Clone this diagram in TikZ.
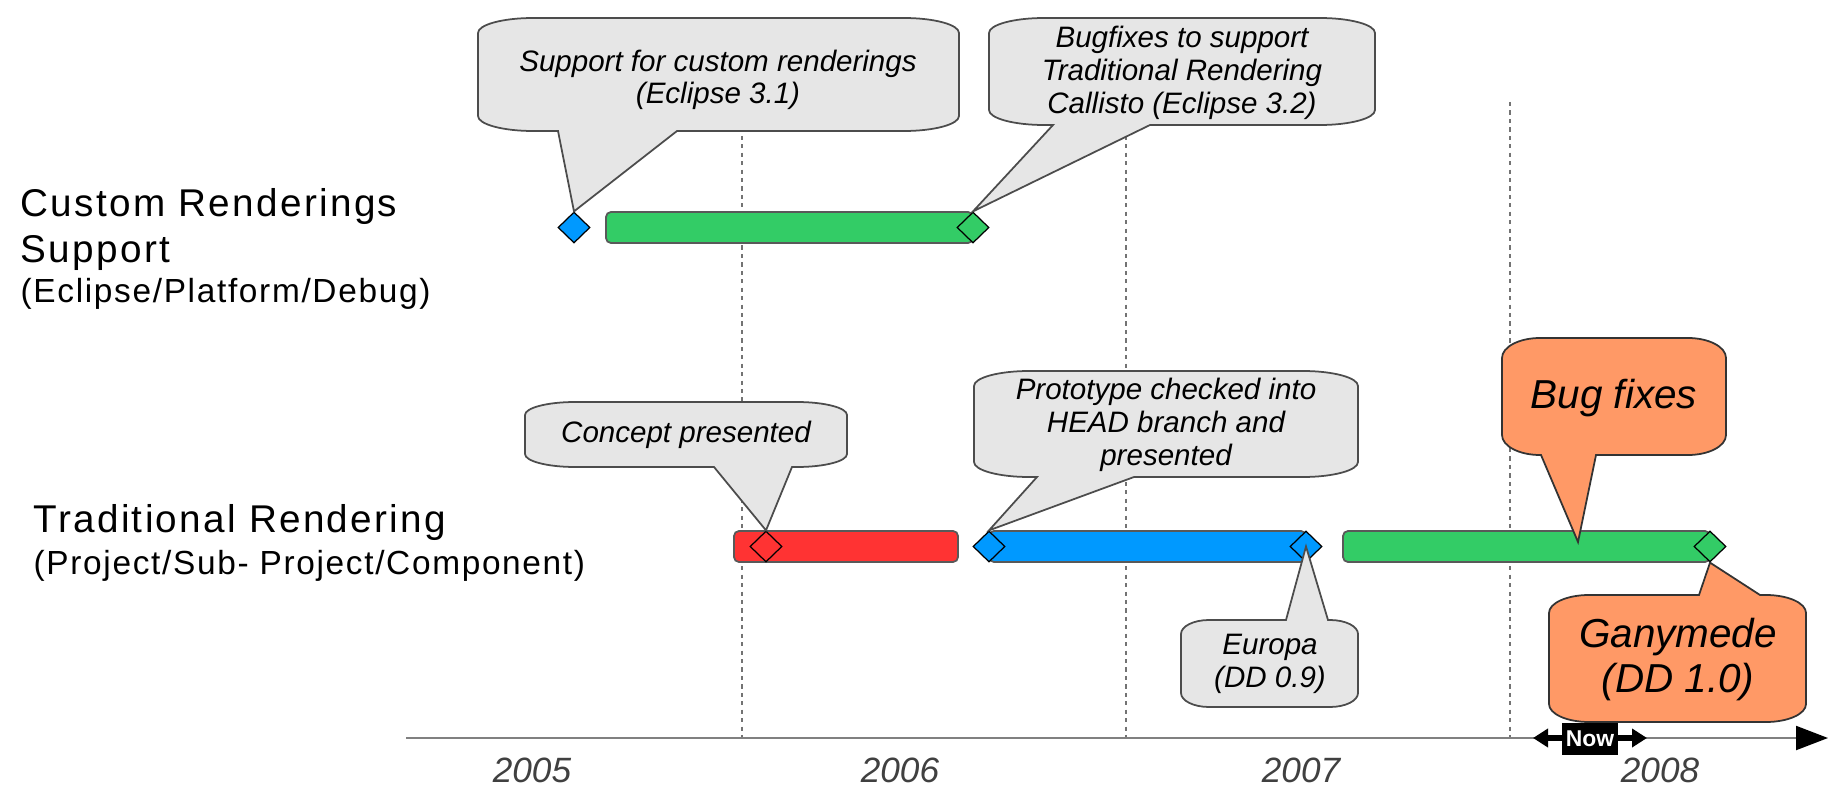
\documentclass[tikz,border=0pt]{standalone}
\usepackage{fontspec}
\setmainfont{Liberation Sans}
\usepackage{xcolor}
\usepackage{tikz}
\usetikzlibrary{positioning, shapes.geometric, arrows.meta}

\definecolor{barGreen}{HTML}{33CC66}
\definecolor{barBlue}{HTML}{0099FF}
\definecolor{barRed}{HTML}{FF3333}
\definecolor{noteOrange}{HTML}{FF9966}
\definecolor{noteGray}{HTML}{E6E6E6}
\definecolor{yearGray}{HTML}{404040}

\tikzset{bubradius/.code 2 args={\def\brx{#1}\def\bry{#2}}}

% speech bubble, pointer on the lower side
\newcommand{\bubbledown}[8]{%
  \draw[#1] (#2+\brx,#3) -- (#4-\brx,#3)
    arc[start angle=270, end angle=360, x radius=\brx, y radius=\bry]
    -- (#4,#5-\bry)
    arc[start angle=0, end angle=90, x radius=\brx, y radius=\bry]
    -- (#7,#5) -- (#8) -- (#6,#5) -- (#2+\brx,#5)
    arc[start angle=90, end angle=180, x radius=\brx, y radius=\bry]
    -- (#2,#3+\bry)
    arc[start angle=180, end angle=270, x radius=\brx, y radius=\bry]
    -- cycle;}
% speech bubble, pointer on the upper side
\newcommand{\bubbleup}[8]{%
  \draw[#1] (#2+\brx,#3) -- (#6,#3) -- (#8) -- (#7,#3) -- (#4-\brx,#3)
    arc[start angle=270, end angle=360, x radius=\brx, y radius=\bry]
    -- (#4,#5-\bry)
    arc[start angle=0, end angle=90, x radius=\brx, y radius=\bry]
    -- (#2+\brx,#5)
    arc[start angle=90, end angle=180, x radius=\brx, y radius=\bry]
    -- (#2,#3+\bry)
    arc[start angle=180, end angle=270, x radius=\brx, y radius=\bry]
    -- cycle;}

\begin{document}
\begin{tikzpicture}[x=0.01cm, y=-0.01cm]
	\tikzstyle{yearline}=[draw=black!55, line width=0.45pt, dash pattern=on 1.2pt off 1.2pt]
	\tikzstyle{bar}=[draw=black!65, line width=0.5pt, rounded corners=1.4pt]
	\tikzstyle{mile}=[diamond, draw=black, line width=0.35pt, inner sep=0pt, minimum width=0.32cm, minimum height=0.31cm]
	\tikzstyle{graybub}=[fill=noteGray, draw=black!70, line width=0.5pt]
	\tikzstyle{orangebub}=[fill=noteOrange, draw=black!80, line width=0.5pt]
	\tikzstyle{note}=[align=center, inner sep=0pt, font=\itshape\fontsize{8.4}{9.3}\selectfont]
	\tikzstyle{bignote}=[align=center, inner sep=0pt, font=\itshape\fontsize{11.5}{12.8}\selectfont]
	\tikzstyle{rowtitle}=[anchor=base west, inner sep=0pt, font=\fontsize{11}{12}\selectfont\addfontfeatures{LetterSpace=6}]
	\tikzstyle{rowsub}=[anchor=base west, inner sep=0pt, font=\fontsize{9.5}{10}\selectfont\addfontfeatures{LetterSpace=5}]
	\tikzstyle{year}=[anchor=base, inner sep=0pt, text=yearGray, font=\itshape\fontsize{10}{12}\selectfont]
	\useasboundingbox (0,0) rectangle (1845,794);

	% year separators and time axis
	\foreach \x in {742,1126,1510}
		\draw[yearline] (\x,102) -- (\x,738);
	\coordinate (axL) at (406,738);
	\coordinate (axR) at (1828,738);
	\draw[draw=black!50, line width=0.6pt, -{Triangle[length=3.2mm, width=2.4mm, color=black]}] (axL) -- (axR);
	\foreach \x/\yr in {532/2005, 900/2006, 1301/2007, 1660/2008}
		\node[year] (y\yr) at (\x,782) {\yr};

	% row labels
	\node[rowtitle] (l1) at (20,216) {Custom Renderings};
	\node[rowtitle] (l2) at (20,262) {Support};
	\node[rowsub] (l3) at (20,302) {(Eclipse/Platform/Debug)};
	\node[rowtitle] (l4) at (33,532) {Traditional Rendering};
	\node[rowsub] (l5) at (33,574) {(Project/Sub- Project/Component)};

	% bars
	\draw[bar, fill=barGreen] (606,212) rectangle (973,243);
	\draw[bar, fill=barRed] (734,531) rectangle (958,562);
	\draw[bar, fill=barBlue] (989,531) rectangle (1306,562);
	\draw[bar, fill=barGreen] (1343,531) rectangle (1710,562);

	% milestones
	\node[mile, fill=barBlue] (m1) at (574,227.5) {};
	\node[mile, fill=barGreen] (m2) at (973,227.5) {};
	\node[mile, fill=barRed] (m3) at (766,546.5) {};
	\node[mile, fill=barBlue] (m4) at (989,546.5) {};
	\node[mile, fill=barBlue] (m5) at (1306,546.5) {};
	\node[mile, fill=barGreen] (m6) at (1710,546.5) {};

	% callouts
	\coordinate (fixtip) at (1578,542);
	\bubbledown{graybub, bubradius={55}{15}}{478}{18}{959}{131}{558}{677}{m1.north}
	\bubbledown{graybub, bubradius={55}{15}}{989}{18}{1375}{125}{1053}{1150}{m2.north}
	\bubbledown{graybub, bubradius={50}{13}}{525}{402}{847}{467}{714}{792}{m3.north}
	\bubbledown{graybub, bubradius={55}{15}}{974}{371}{1358}{477}{1037}{1134}{m4.north}
	\bubbleup{graybub, bubradius={28}{14}}{1181}{620}{1358}{707}{1286}{1328}{m5.center}
	\bubbledown{orangebub, bubradius={38}{20}}{1502}{338}{1726}{455}{1541}{1596}{fixtip}
	\bubbleup{orangebub, bubradius={40}{18}}{1549}{595}{1806}{722}{1699}{1760}{m6.south}

	\node[note] (c1) at (718,80) {Support for custom renderings\\(Eclipse 3.1)};
	\node[note] (c2) at (1182,73) {Bugfixes to support\\Traditional Rendering\\Callisto (Eclipse 3.2)};
	\node[note] (c3) at (686,435) {Concept presented};
	\node[note] (c4) at (1166,425) {Prototype checked into\\HEAD branch and\\presented};
	\node[note] (c5) at (1270,664) {Europa\\(DD 0.9)};
	\node[bignote] (c6) at (1614,398) {Bug fixes};
	\node[bignote] (c7) at (1678,660) {Ganymede\\(DD 1.0)};

	% now marker
	\coordinate (nowL) at (1533,738);
	\coordinate (nowR) at (1647,738);
	\draw[line width=1.8pt, {Triangle[length=1.5mm, width=1.8mm]}-{Triangle[length=1.5mm, width=1.8mm]}] (nowL) -- (nowR);
	\node[fill=black, text=white, inner sep=0pt, minimum width=0.56cm, minimum height=0.32cm, font=\bfseries\fontsize{6.5}{7}\selectfont] (now) at (1590,739) {Now};
\end{tikzpicture}
\end{document}
